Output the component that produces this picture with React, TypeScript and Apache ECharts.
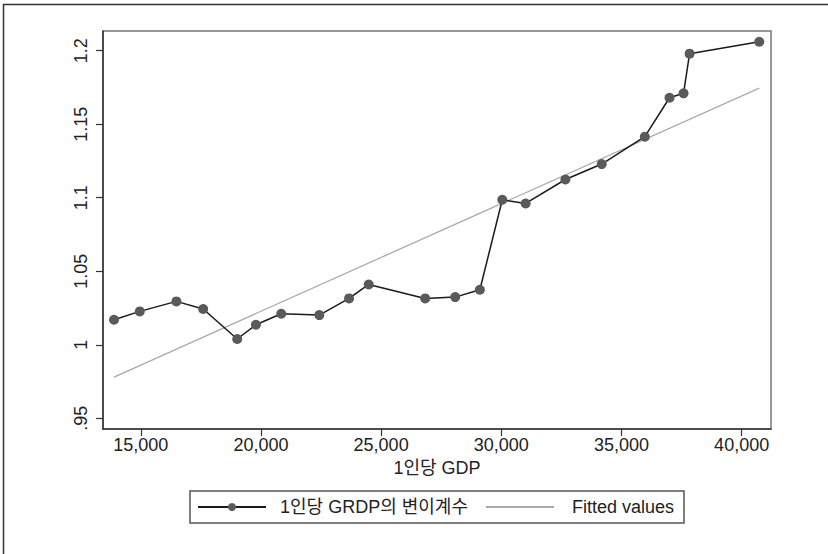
import React, { useEffect, useRef } from "react";
import * as echarts from "echarts";

const gdp = [13888, 14958, 16483, 17596, 19013, 19792, 20846, 22429, 23667, 24483, 26833, 28083, 29108, 30042, 31013, 32667, 34179, 35971, 36999, 37583, 37833, 40733];
const cv = [1.017, 1.0227, 1.0295, 1.0243, 1.0039, 1.0136, 1.0211, 1.0202, 1.0315, 1.041, 1.0315, 1.0324, 1.0374, 1.0986, 1.0961, 1.1124, 1.1229, 1.1415, 1.168, 1.171, 1.198, 1.2061];
const fitX = [13888, 40733];
const fitY = [0.978, 1.1746];
const xTicks = [15000, 20000, 25000, 30000, 35000, 40000];
const yTicks = [0.95, 1.0, 1.05, 1.1, 1.15, 1.2];
const seriesNames = ["1인당 GRDP의 변이계수", "Fitted values"];
const xTitle = "1인당 GDP";

const FONT = "'Liberation Sans', 'Noto Sans CJK KR', Arial, sans-serif";

export default function App() {
  const ref = useRef<HTMLDivElement>(null);
  useEffect(() => {
    if (!ref.current) return;
    const chart = echarts.init(ref.current, undefined, { renderer: "svg" });
    const fmtY = (v: number) => {
      let s = String(Math.round(v * 100) / 100);
      if (s.startsWith("0.")) s = s.slice(1);
      return s;
    };
    chart.setOption({
      animation: false,
      backgroundColor: "#ffffff",
      textStyle: { fontFamily: FONT },
      grid: {
        left: 103,
        top: 31,
        right: 57,
        bottom: 125,
        show: true,
        borderColor: "#777777",
        borderWidth: 1.5,
        backgroundColor: "#ffffff",
      },
      xAxis: {
        type: "value",
        min: 13429,
        max: 41221,
        name: xTitle,
        nameLocation: "middle",
        nameGap: 27,
        nameTextStyle: { fontFamily: FONT, fontSize: 18, color: "#222" },
        axisLine: { show: true, lineStyle: { color: "#333", width: 1.5 } },
        axisTick: { show: true, length: 7, customValues: xTicks, lineStyle: { color: "#333", width: 1.2 } },
        axisLabel: {
          customValues: xTicks,
          margin: 7,
          fontSize: 18,
          fontFamily: FONT,
          color: "#222",
          formatter: (v: number) => v.toLocaleString("en-US"),
        },
        splitLine: { show: false },
      },
      yAxis: {
        type: "value",
        min: 0.9427,
        max: 1.2134,
        axisLine: { show: true, lineStyle: { color: "#333", width: 1.5 } },
        axisTick: { show: true, length: 7, customValues: yTicks, lineStyle: { color: "#333", width: 1.2 } },
        axisLabel: {
          customValues: yTicks,
          rotate: 90,
          margin: 13,
          fontSize: 18,
          fontFamily: FONT,
          color: "#222",
          formatter: fmtY,
        },
        splitLine: { show: false },
      },
      legend: {
        left: 190,
        top: 491,
        orient: "horizontal",
        itemGap: 17,
        itemWidth: 68,
        itemHeight: 10,
        padding: [7, 10, 7, 7],
        borderColor: "#555",
        borderWidth: 1.5,
        textStyle: { fontFamily: FONT, fontSize: 18, color: "#222" },
        data: [
          { name: seriesNames[0], textStyle: { padding: [0, 0, 0, 9] } },
          { name: seriesNames[1], itemStyle: { opacity: 0 }, textStyle: { padding: [0, 0, 0, 13] } },
        ],
      },
      series: [
        {
          name: seriesNames[0],
          type: "line",
          data: gdp.map((x, i) => [x, cv[i]]),
          symbol: "circle",
          symbolSize: 10,
          lineStyle: { color: "#1a1a1a", width: 1.5 },
          itemStyle: { color: "#5a5a5a" },
          z: 3,
        },
        {
          name: seriesNames[1],
          type: "line",
          data: fitX.map((x, i) => [x, fitY[i]]),
          symbol: "none",
          lineStyle: { color: "#aaaaaa", width: 1.3 },
          itemStyle: { color: "#aaaaaa" },
          z: 2,
        },
      ],
      graphic: [
        {
          type: "polyline",
          shape: { points: [[3.5, 554], [3.5, 4.5], [828, 4.5]] },
          style: { stroke: "#333", lineWidth: 1.5, fill: "none" },
          silent: true,
        },
      ],
    });
    return () => chart.dispose();
  }, []);
  return (
    <div
      ref={ref}
      style={{ position: "fixed", left: 0, top: 0, width: 828, height: 554, background: "#fff" }}
    />
  );
}
